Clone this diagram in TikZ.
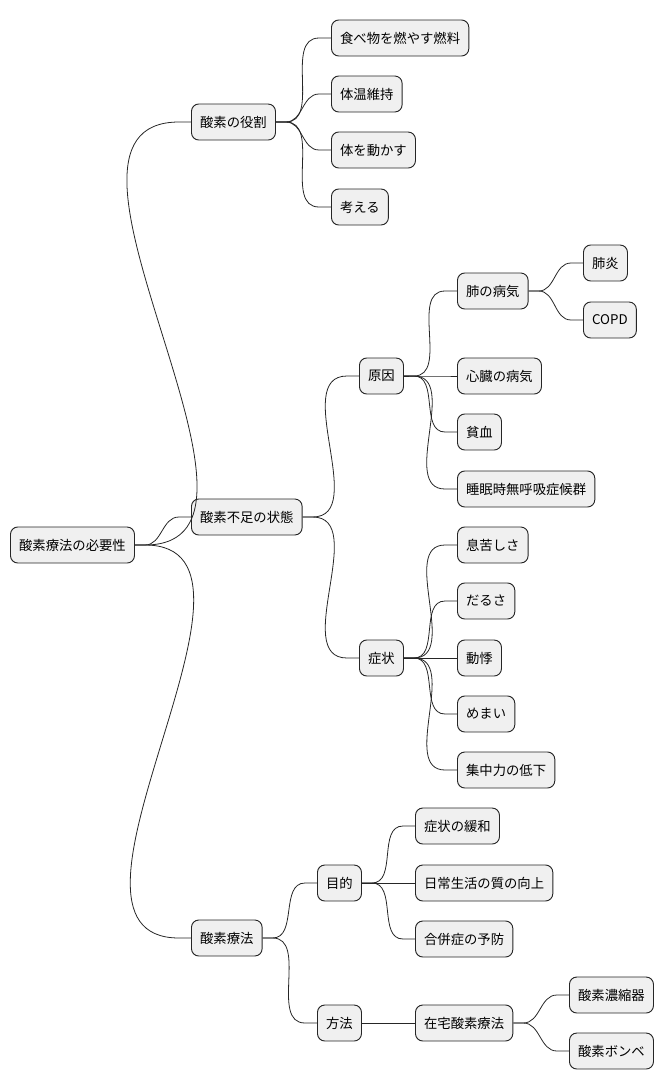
\documentclass[tikz,border=0pt]{standalone}
\usepackage{fontspec}
\newfontfamily\jp{Noto Sans CJK JP}
\usetikzlibrary{calc}
\tikzset{mm/.style={draw=black!85,fill=black!6,rounded corners=5.5pt,line width=0.7pt,anchor=west,minimum height=27pt,inner xsep=6.5pt,font=\jp\fontsize{10}{12}\selectfont},
cn/.style={line width=0.6pt,black!85}}
\newcommand\conn[2]{\draw[cn] (#1.east) -- ++(10,0) to[out=0,in=180] ($(#2.west)+(-12,0)$) -- (#2.west);}
\begin{document}
\begin{tikzpicture}[x=0.75pt,y=-0.75pt]
\useasboundingbox (0,0) rectangle (670,1090);
\node[mm] (r) at (10,545) {酸素療法の必要性};
\node[mm] (a) at (191,122) {酸素の役割};
\node[mm] (a1) at (331,38) {食べ物を燃やす燃料};
\node[mm] (a2) at (331,94) {体温維持};
\node[mm] (a3) at (331,150) {体を動かす};
\node[mm] (a4) at (331,207) {考える};
\node[mm] (b) at (191,517) {酸素不足の状態};
\node[mm] (b1) at (359,376) {原因};
\node[mm] (b11) at (457,291) {肺の病気};
\node[mm] (b111) at (583,263) {肺炎};
\node[mm] (b112) at (583,320) {COPD};
\node[mm] (b12) at (457,376) {心臓の病気};
\node[mm] (b13) at (457,432) {貧血};
\node[mm] (b14) at (457,489) {睡眠時無呼吸症候群};
\node[mm] (b2) at (359,658) {症状};
\node[mm] (b21) at (457,545) {息苦しさ};
\node[mm] (b22) at (457,601) {だるさ};
\node[mm] (b23) at (457,658) {動悸};
\node[mm] (b24) at (457,714) {めまい};
\node[mm] (b25) at (457,770) {集中力の低下};
\node[mm] (c) at (191,938) {酸素療法};
\node[mm] (c1) at (317,883) {目的};
\node[mm] (c11) at (415,826) {症状の緩和};
\node[mm] (c12) at (415,883) {日常生活の質の向上};
\node[mm] (c13) at (415,939) {合併症の予防};
\node[mm] (c2) at (317,1023) {方法};
\node[mm] (c21) at (415,1023) {在宅酸素療法};
\node[mm] (c211) at (569,995) {酸素濃縮器};
\node[mm] (c212) at (569,1051) {酸素ボンベ};
\conn{r}{a}\conn{r}{b}\conn{r}{c}
\conn{a}{a1}\conn{a}{a2}\conn{a}{a3}\conn{a}{a4}
\conn{b}{b1}\conn{b}{b2}
\conn{b1}{b11}\conn{b1}{b12}\conn{b1}{b13}\conn{b1}{b14}
\conn{b11}{b111}\conn{b11}{b112}
\conn{b2}{b21}\conn{b2}{b22}\conn{b2}{b23}\conn{b2}{b24}\conn{b2}{b25}
\conn{c}{c1}\conn{c}{c2}
\conn{c1}{c11}\conn{c1}{c12}\conn{c1}{c13}
\conn{c2}{c21}
\conn{c21}{c211}\conn{c21}{c212}
\end{tikzpicture}
\end{document}
